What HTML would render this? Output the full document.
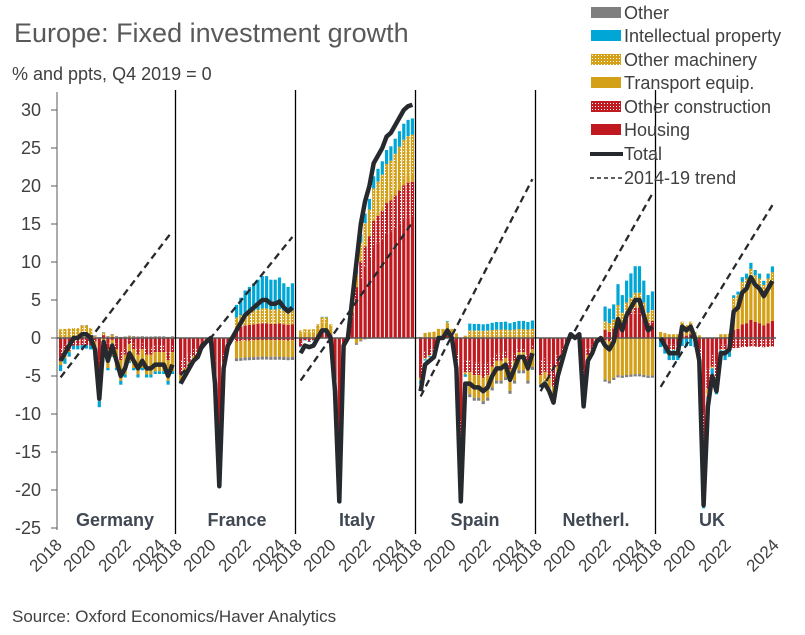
<!DOCTYPE html>
<html><head><meta charset="utf-8"><style>
html,body{margin:0;padding:0;background:#fff;}
svg{display:block;font-family:"Liberation Sans",sans-serif;}
</style></head><body>
<svg id="s" width="805" height="635" viewBox="0 0 805 635">
<defs>
<pattern id="pr" width="3" height="3" patternUnits="userSpaceOnUse"><rect width="3" height="3" fill="#c0191f"/><rect x="1" y="1" width="1" height="1" fill="#fff"/></pattern>
<pattern id="pg" width="3" height="3" patternUnits="userSpaceOnUse"><rect width="3" height="3" fill="#d4a017"/><rect x="1" y="1" width="1" height="1" fill="#fff"/></pattern>
</defs>
<text x="14" y="42" font-size="27" fill="#595959">Europe: Fixed investment growth</text>
<text x="12" y="80" font-size="18" fill="#404040">% and ppts, Q4 2019 = 0</text>
<g font-size="18" fill="#404040" text-anchor="end">
<text x="41" y="116">30</text><text x="41" y="154">25</text><text x="41" y="192">20</text><text x="41" y="230">15</text><text x="41" y="268">10</text><text x="41" y="306">5</text><text x="41" y="344">0</text><text x="41" y="382">-5</text><text x="41" y="420">-10</text><text x="41" y="458">-15</text><text x="41" y="496">-20</text><text x="41" y="534">-25</text>
</g>
<g stroke="#595959" stroke-width="1">
<line x1="57" y1="92" x2="57" y2="530"/>
<line x1="51" y1="110" x2="57" y2="110"/><line x1="51" y1="148" x2="57" y2="148"/><line x1="51" y1="186" x2="57" y2="186"/><line x1="51" y1="224" x2="57" y2="224"/><line x1="51" y1="262" x2="57" y2="262"/><line x1="51" y1="300" x2="57" y2="300"/><line x1="51" y1="338" x2="57" y2="338"/><line x1="51" y1="376" x2="57" y2="376"/><line x1="51" y1="414" x2="57" y2="414"/><line x1="51" y1="452" x2="57" y2="452"/><line x1="51" y1="490" x2="57" y2="490"/><line x1="51" y1="528" x2="57" y2="528"/>
</g>
<g id="bars"></g>
<line x1="57" y1="338" x2="776" y2="338" stroke="#595959" stroke-width="1.5"/>
<g stroke="#000" stroke-width="1.3">
<line x1="175.5" y1="90" x2="175.5" y2="534"/><line x1="295.5" y1="90" x2="295.5" y2="534"/><line x1="415.5" y1="90" x2="415.5" y2="534"/><line x1="535.5" y1="90" x2="535.5" y2="534"/><line x1="655.5" y1="90" x2="655.5" y2="534"/>
</g>
<g id="lines"></g>
<g font-size="18" font-weight="bold" fill="#404853" text-anchor="middle">
<text x="115" y="526">Germany</text><text x="237" y="526">France</text><text x="357" y="526">Italy</text><text x="475" y="526">Spain</text><text x="596" y="526">Netherl.</text><text x="712" y="526">UK</text>
</g>
<g font-size="17" fill="#404040" text-anchor="end">
<text transform="translate(63,546) rotate(-45)">2018</text><text transform="translate(97,546) rotate(-45)">2020</text><text transform="translate(132,546) rotate(-45)">2022</text><text transform="translate(166,546) rotate(-45)">2024</text>
<text transform="translate(183,546) rotate(-45)">2018</text><text transform="translate(217,546) rotate(-45)">2020</text><text transform="translate(252,546) rotate(-45)">2022</text><text transform="translate(286,546) rotate(-45)">2024</text>
<text transform="translate(303,546) rotate(-45)">2018</text><text transform="translate(337,546) rotate(-45)">2020</text><text transform="translate(372,546) rotate(-45)">2022</text><text transform="translate(406,546) rotate(-45)">2024</text>
<text transform="translate(423,546) rotate(-45)">2018</text><text transform="translate(457,546) rotate(-45)">2020</text><text transform="translate(492,546) rotate(-45)">2022</text><text transform="translate(526,546) rotate(-45)">2024</text>
<text transform="translate(543,546) rotate(-45)">2018</text><text transform="translate(577,546) rotate(-45)">2020</text><text transform="translate(612,546) rotate(-45)">2022</text><text transform="translate(646,546) rotate(-45)">2024</text>
<text transform="translate(663,546) rotate(-45)">2018</text><text transform="translate(697,546) rotate(-45)">2020</text><text transform="translate(732,546) rotate(-45)">2022</text><text transform="translate(780,546) rotate(-45)">2024</text>
</g>
<text x="12" y="622" font-size="17" fill="#404040">Source: Oxford Economics/Haver Analytics</text>
<g font-size="18" fill="#404040">
<rect x="591" y="7" width="30" height="11" fill="#7f7f7f"/><text x="624" y="19">Other</text>
<rect x="591" y="30" width="30" height="11" fill="#00a6d6"/><text x="624" y="42">Intellectual property</text>
<rect x="591" y="54" width="30" height="11" fill="url(#pg)"/><text x="624" y="66">Other machinery</text>
<rect x="591" y="77" width="30" height="11" fill="#d4a017"/><text x="624" y="89">Transport equip.</text>
<rect x="591" y="101" width="30" height="11" fill="url(#pr)"/><text x="624" y="113">Other construction</text>
<rect x="591" y="124" width="30" height="11" fill="#c0191f"/><text x="624" y="136">Housing</text>
<line x1="590" y1="154" x2="623" y2="154" stroke="#262a2e" stroke-width="4"/><text x="624" y="160">Total</text>
<line x1="590" y1="178" x2="623" y2="178" stroke="#262a2e" stroke-width="1.5" stroke-dasharray="4,3"/><text x="624" y="184">2014-19 trend</text>
</g>
</svg>
<script>
var Z=338,K=7.6;
function Y(v){return Z-v*K;}
var P=[
{t:[-3,-2,-1,0,0,0.5,0.5,0,-1.5,-8,-0.5,-3,-1,-3,-5,-4,-2,-3,-4,-3,-4,-4,-3.5,-3.5,-3.5,-5,-3.5],sl:0.74,
 neg:[0.45,0.25,0.15,0.05,0.1,0],pos:[0.3,0.1,0.1,0.3,0.1,0.1],ex:function(i){return i<8?[0,0,0,1.3,0,0]:[0.6,0,0,0.3,0,0.1];},exn:function(i){return i<8?[0,-1,0,0,-0.5,0]:[0,0,-2,0,0,0];}},
{t:[-6,-5,-4,-3,-2.5,-1,-0.5,0,-6,-19.5,-4,-1,0,1,2,3,3.5,4,4.5,5,5,4.5,4.5,4.8,4,3.5,4],sl:0.7,
 neg:[0.5,0.3,0.1,0.05,0.05,0],pos:[0.15,0.05,0,0.15,0.65,0],ex:function(i){return i>12?[1.2,0,0,1.2,1,0]:[0,0,0,0,0,0];},exn:function(i){return i>12?[0,-0.5,-2.2,0,0,-0.4]:[0,0,0,0,0,0];}},
{t:[-2,-1,-1.2,-1,0,1,1,0,-7,-21.5,-1,0,5,10,15,18,20,23,24,25,26.5,27,28,29,30,30.5,30.7],sl:0.8,
 neg:[0.5,0.3,0.1,0.05,0.05,0],pos:[0.52,0.15,0.08,0.17,0.07,0.01],ex:function(i){return i<8?[0.5,0,0.8,0.5,0,0]:[0,0,0,0,0,0];},exn:function(i){return i>12?[0,0,-1.5,0,0,-0.3]:[0,0,0,0,0,0];}},
{t:[-7,-3.5,-3,-2.5,0,0,1,0,-4,-21.5,-6,-6,-6.5,-6.5,-7,-6.5,-5,-4,-4,-3.5,-5.5,-4,-2.5,-2.5,-4,-2],sl:1.1,
 neg:[0.5,0.25,0.15,0.05,0.05,0],pos:[0.3,0.1,0.3,0.2,0.1,0],ex:function(i){return i>10?[0,0,0,1.3,1.2,0]:[0,0,1.2,0,0,0];},exn:function(i){return i>10?[0,0,-2,0,0,-0.4]:[0,0,0,0,0,0];}},
{t:[-6.5,-6,-7,-8.5,-5,-3,-1,0.5,0,0.5,-9,-3,-2,-0.5,0,-1,-1.5,-0.5,2.5,1,3,4,5,5,3,1,1.5],sl:1.0,
 neg:[0.45,0.3,0.15,0.05,0.05,0],pos:[0.35,0.15,0.05,0.15,0.3,0],ex:function(i){return i>14?[1.5,0,0,1.2,2,0]:[0,0,0,0,0,0];},exn:function(i){return i>14?[0,0,-5,0,0,-0.3]:[0,0,0,0,0,0];}},
{t:[0,-1,-2,-2,-2,1.5,1,1.5,0,-3,-22,-9,-5,-7,-2,-2,-1.5,3.5,4,6,6.5,8,7,6.5,5.5,6.5,7.5],sl:0.92,
 neg:[0.45,0.3,0.15,0.05,0.05,0],pos:[0.3,0.05,0.45,0.1,0.1,0],ex:function(i){return i>16?[0,0,1.5,0.8,0,0]:[0,0,0.8,0,0,0];},exn:function(i){return i>16?[0,-1.5,0,0,0,0]:[0,0,0,0,-1.2,0];}}
];
var fills=["#c0191f","url(#pr)","#d4a017","url(#pg)","#00a6d6","#7f7f7f"];
var b="",l="",step=4.3;
P.forEach(function(p,k){
 var L=57+120*k+2;
 var n=p.t.length, st=26*step/(n-1);
 var pts=[];
 p.t.forEach(function(T,i){
  var x=L+i*st;
  var sh=T<0?p.neg:p.pos,ex=p.ex(i),en=p.exn(i),c=[];
  for(var j=0;j<6;j++)c.push(sh[j]*T+ex[j]+en[j]);
  var up=0,dn=0;
  for(j=0;j<6;j++){var v=c[j];if(Math.abs(v)<0.02)continue;
   if(v>0){b+='<rect x="'+x.toFixed(1)+'" y="'+Y(up+v).toFixed(1)+'" width="3.2" height="'+(v*K).toFixed(1)+'" fill="'+fills[j]+'"/>';up+=v;}
   else{b+='<rect x="'+x.toFixed(1)+'" y="'+Y(dn).toFixed(1)+'" width="3.2" height="'+(-v*K).toFixed(1)+'" fill="'+fills[j]+'"/>';dn+=v;}}
  pts.push((x+1.6).toFixed(1)+','+Y(T).toFixed(1));
 });
 var xs=L+1.6, xe=L+26*step+1.6;
 l+='<line x1="'+xs+'" y1="'+Y(-7*p.sl)+'" x2="'+xe+'" y2="'+Y(19*p.sl)+'" stroke="#262a2e" stroke-width="2.3" stroke-dasharray="7,4.5"/>';
 l+='<polyline points="'+pts.join(' ')+'" fill="none" stroke="#262a2e" stroke-width="4.5" stroke-linejoin="round"/>';
});
document.getElementById('bars').innerHTML=b;
document.getElementById('lines').innerHTML=l;
</script>
</body></html>
